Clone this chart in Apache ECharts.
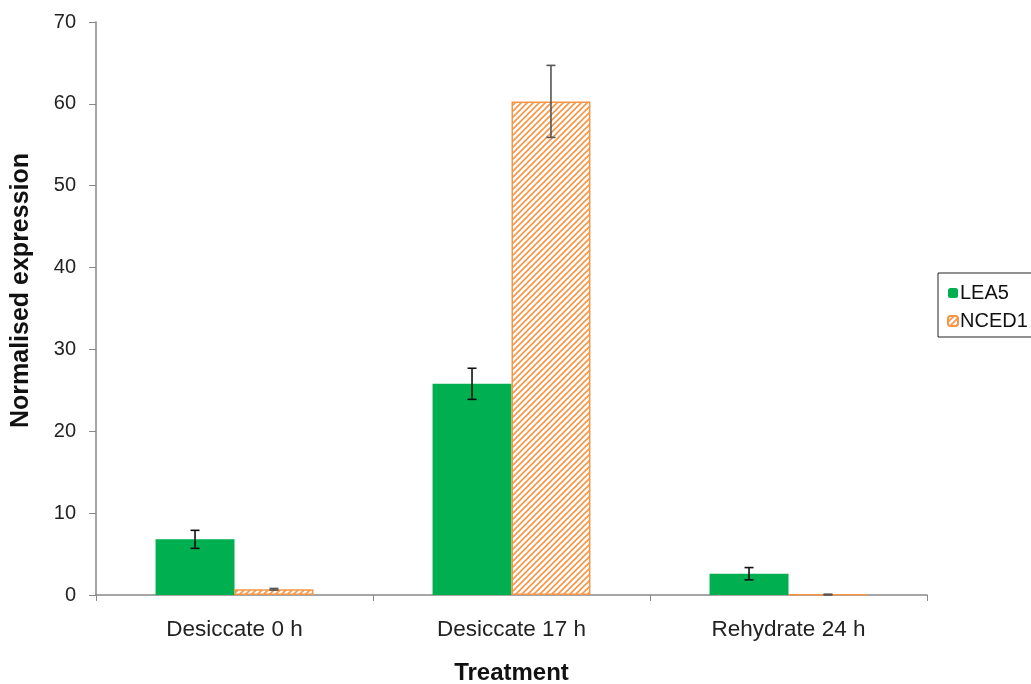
<!DOCTYPE html>
<html>
<head>
<meta charset="utf-8">
<script src="https://cdn.jsdelivr.net/npm/echarts@6/dist/echarts.min.js"></script>
<style>
  html, body { margin: 0; padding: 0; background: #fff; }
  #chart { width: 1031px; height: 684px; }
</style>
</head>
<body>
<div id="chart"></div>
<script>
// Treatment groups and measured expression
const categories = ['Desiccate 0 h', 'Desiccate 17 h', 'Rehydrate 24 h'];
const lea5 = [6.8, 25.8, 2.6];
const lea5Err = [1.1, 1.9, 0.75];
const nced1 = [0.7, 60.3, 0.05];
const nced1Err = [0.1, 4.4, 0.05];
const yTicks = [0, 10, 20, 30, 40, 50, 60, 70];

const GREEN = '#00B050';
const ORANGE = '#F79646';
const FONT = 'Liberation Sans, Arial, sans-serif';
const CAT_GAP = 0.43; // fraction of each band left empty

// Diagonal hatch fill for NCED1
function hatch() {
  const s = 6;
  const c = document.createElement('canvas');
  c.width = s; c.height = s;
  const g = c.getContext('2d');
  g.fillStyle = '#fff';
  g.fillRect(0, 0, s, s);
  g.strokeStyle = ORANGE;
  g.lineWidth = 1.6;
  g.beginPath();
  g.moveTo(-1, s + 1); g.lineTo(s + 1, -1);
  g.moveTo(-1, 1); g.lineTo(1, -1);
  g.moveTo(s - 1, s + 1); g.lineTo(s + 1, s - 1);
  g.stroke();
  return c;
}
const hatchFill = { image: hatch(), repeat: 'repeat' };

// Error whiskers drawn over one bar of each pair (side -1 left, +1 right)
function errorSeries(values, errs, side, color) {
  const data = values.map((v, i) => [i, v - errs[i], v + errs[i]]);
  return {
    type: 'custom',
    silent: true,
    z: 10,
    data: data,
    encode: { x: 0, y: [1, 2] },
    renderItem: function (params, api) {
      const idx = api.value(0);
      const lo = api.coord([idx, api.value(1)]);
      const hi = api.coord([idx, api.value(2)]);
      const band = api.size([1, 0])[0];
      const x = lo[0] + side * band * (1 - CAT_GAP) / 4;
      const cap = 4.5;
      const style = { stroke: color, lineWidth: 1.6 };
      return {
        type: 'group',
        children: [
          { type: 'line', shape: { x1: x, y1: lo[1], x2: x, y2: hi[1] }, style: style },
          { type: 'line', shape: { x1: x - cap, y1: lo[1], x2: x + cap, y2: lo[1] }, style: style },
          { type: 'line', shape: { x1: x - cap, y1: hi[1], x2: x + cap, y2: hi[1] }, style: style }
        ]
      };
    }
  };
}

const chart = echarts.init(document.getElementById('chart'));
chart.setOption({
  animation: false,
  backgroundColor: '#fff',
  grid: { left: 96, right: 104, top: 22, bottom: 89, containLabel: false, outerBoundsMode: 'none' },
  legend: {
    orient: 'vertical',
    left: 938,
    top: 273,
    data: ['LEA5', 'NCED1'],
    itemWidth: 10,
    itemHeight: 10,
    itemGap: 8,
    padding: [10, 40, 6, 9],
    borderColor: '#222',
    borderWidth: 1,
    textStyle: { fontFamily: FONT, fontSize: 20, color: '#111', padding: [0, 0, 0, -3] }
  },
  xAxis: {
    type: 'category',
    data: categories,
    name: 'Treatment',
    nameLocation: 'middle',
    nameGap: 66,
    nameTextStyle: { fontFamily: FONT, fontSize: 24, fontWeight: 'bold', color: '#111' },
    axisLine: { lineStyle: { color: '#888', width: 1.5 } },
    axisTick: { show: true, alignWithLabel: false, length: 6, lineStyle: { color: '#888' } },
    axisLabel: { fontFamily: FONT, fontSize: 22.5, color: '#222', margin: 23 }
  },
  yAxis: {
    type: 'value',
    min: yTicks[0],
    max: yTicks[yTicks.length - 1],
    interval: 10,
    name: 'Normalised expression',
    nameLocation: 'middle',
    nameGap: 62,
    nameTextStyle: { fontFamily: FONT, fontSize: 25, fontWeight: 'bold', color: '#111', padding: [0, 0, 0, 36] },
    axisLine: { show: true, lineStyle: { color: '#888', width: 1.5 } },
    axisTick: { show: true, length: 7, lineStyle: { color: '#888' } },
    axisLabel: { fontFamily: FONT, fontSize: 20, color: '#222', margin: 20 },
    splitLine: { show: false }
  },
  series: [
    {
      name: 'LEA5',
      type: 'bar',
      data: lea5,
      barGap: '0%',
      barCategoryGap: (CAT_GAP * 100) + '%',
      itemStyle: { color: GREEN }
    },
    {
      name: 'NCED1',
      type: 'bar',
      data: nced1,
      itemStyle: { color: hatchFill, borderColor: ORANGE, borderWidth: 1.5 }
    },
    errorSeries(lea5, lea5Err, -1, '#111'),
    errorSeries(nced1, nced1Err, 1, '#555')
  ]
});
</script>
</body>
</html>
